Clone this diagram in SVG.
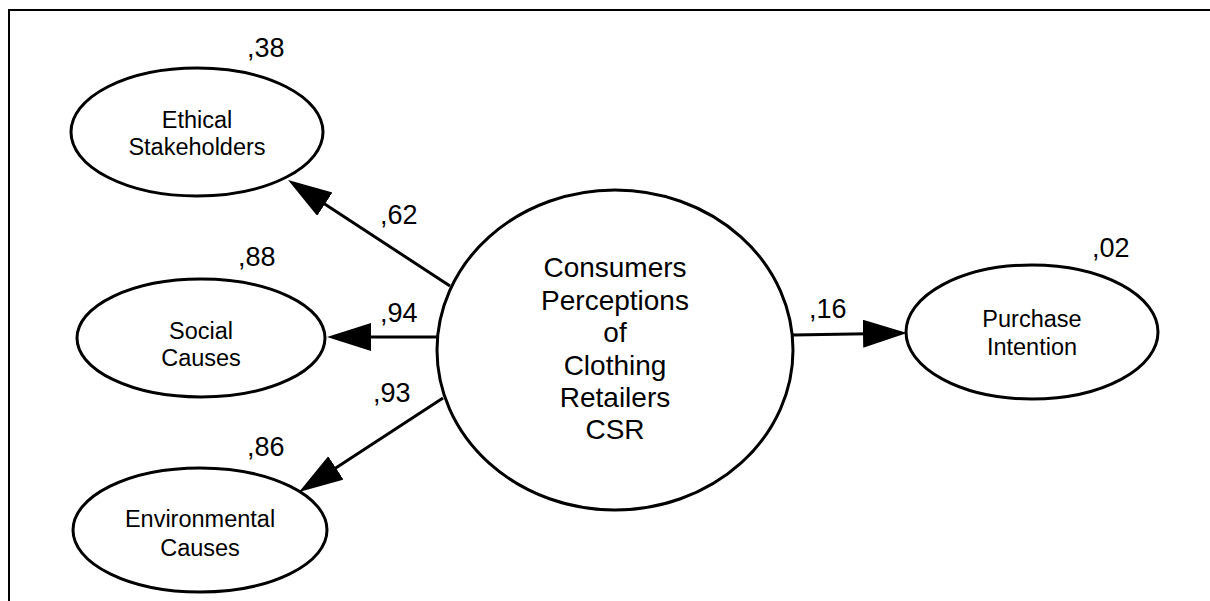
<svg xmlns="http://www.w3.org/2000/svg" width="1210" height="601" viewBox="0 0 1210 601">
  <style>
    .node { fill: #ffffff; stroke: #000000; stroke-width: 3; }
    .lbl { font-family: "Liberation Sans", Arial, sans-serif; font-size: 23.5px; fill: #000000; text-anchor: middle; }
    .big { font-family: "Liberation Sans", Arial, sans-serif; font-size: 28px; fill: #000000; text-anchor: middle; }
    .num { font-family: "Liberation Sans", Arial, sans-serif; font-size: 27px; fill: #000000; }
    .edge { stroke: #000000; stroke-width: 3; fill: none; marker-end: url(#head); }
    .frame { stroke: #000000; stroke-width: 2; fill: none; }
  </style>
  <defs>
    <marker id="head" markerUnits="userSpaceOnUse" markerWidth="46" markerHeight="30" refX="34" refY="14" orient="auto">
      <path d="M0,0 L44,14 L0,28 Z" fill="#000000"/>
    </marker>
  </defs>

  <rect width="1210" height="601" fill="#ffffff"/>
  <!-- frame (top and left edges) -->
  <path class="frame" d="M9,601 L9,10 L1210,10"/>

  <g id="connectors">
    <line class="edge" x1="450" y1="286" x2="296.4" y2="185.5"/>
    <line class="edge" x1="437" y1="337" x2="337" y2="337"/>
    <line class="edge" x1="443" y1="398" x2="307.4" y2="486.5"/>
    <line class="edge" x1="793" y1="335" x2="897" y2="333.2"/>
    <text class="num" x="380" y="224">,62</text>
    <text class="num" x="380" y="322">,94</text>
    <text class="num" x="373" y="402">,93</text>
    <text class="num" x="809" y="318">,16</text>
  </g>

  <g id="ethical">
    <ellipse class="node" cx="197" cy="132" rx="126" ry="64"/>
    <text class="lbl" x="197" y="128">Ethical</text>
    <text class="lbl" x="197" y="155">Stakeholders</text>
    <text class="num" x="247" y="57">,38</text>
  </g>

  <g id="social">
    <ellipse class="node" cx="201" cy="338" rx="124" ry="59"/>
    <text class="lbl" x="201" y="339">Social</text>
    <text class="lbl" x="201" y="366">Causes</text>
    <text class="num" x="238" y="266">,88</text>
  </g>

  <g id="environmental">
    <ellipse class="node" cx="200" cy="530" rx="127" ry="62"/>
    <text class="lbl" x="200" y="527">Environmental</text>
    <text class="lbl" x="200" y="556">Causes</text>
    <text class="num" x="247" y="456">,86</text>
  </g>

  <g id="csr">
    <ellipse class="node" cx="615" cy="350" rx="178" ry="160"/>
    <text class="big" x="615" y="277">Consumers</text>
    <text class="big" x="615" y="310">Perceptions</text>
    <text class="big" x="615" y="342">of</text>
    <text class="big" x="615" y="375">Clothing</text>
    <text class="big" x="615" y="407">Retailers</text>
    <text class="big" x="615" y="439">CSR</text>
  </g>

  <g id="purchase">
    <ellipse class="node" cx="1032" cy="332" rx="126" ry="67"/>
    <text class="lbl" x="1032" y="327">Purchase</text>
    <text class="lbl" x="1032" y="355">Intention</text>
    <text class="num" x="1092" y="257">,02</text>
  </g>
</svg>
